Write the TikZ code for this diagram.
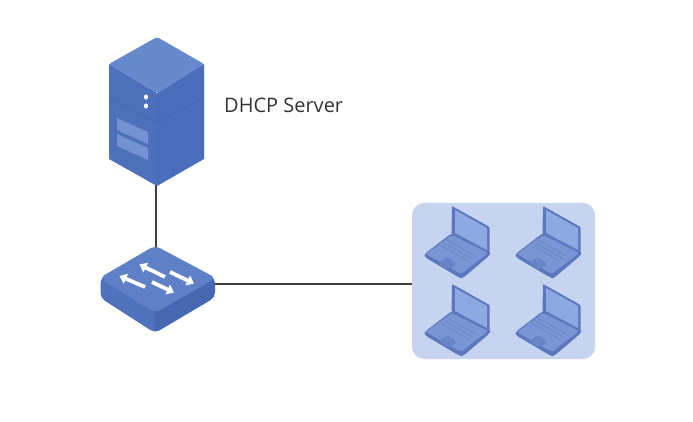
\documentclass[tikz,border=0pt]{standalone}
\usepackage{fontspec}
\setmainfont{Open Sans}
\usetikzlibrary{arrows.meta}
\definecolor{srvtop}{HTML}{6688CC}
\definecolor{srvleft}{HTML}{4C70BC}
\definecolor{srvright}{HTML}{4A6EBB}
\definecolor{srvdark}{HTML}{4669B4}
\definecolor{srvslot}{HTML}{7392D2}
\definecolor{swtop}{HTML}{5E80C6}
\definecolor{swleft}{HTML}{4F72BC}
\definecolor{swright}{HTML}{4667B2}
\definecolor{panelbg}{HTML}{C6D4F0}
\definecolor{lapdark}{HTML}{5B78BE}
\definecolor{lapbase}{HTML}{7A95D3}
\definecolor{lapscreen}{HTML}{8EA8E1}
\definecolor{lapkey}{HTML}{6A85C7}
\definecolor{wire}{HTML}{3F3F3F}
\tikzset{
  wireline/.style={draw=wire,line width=2pt},
  swarrow/.style={draw=white,line width=3.8pt,-{Triangle[length=7pt,width=10.5pt]}},
  laptop/.pic={
    \fill[lapdark,rounded corners=1pt] (-1.5,27) -- (-1,-1) -- (36.5,20) -- (36.5,47) -- cycle;
    \fill[lapscreen] (2,3) -- (34,21) -- (34,43) -- (2,26) -- cycle;
    \fill[lapdark,rounded corners=3pt] (-1,26) -- (-28.5,47) -- (-28.5,50) -- (7,71) -- (10,71) -- (37,48) -- (37,45) -- cycle;
    \fill[lapbase,rounded corners=2pt] (-1,28) -- (-27,47) -- (8,67) -- (35,46) -- cycle;
    \foreach \k in {0,1,2}{
      \draw[lapkey,line width=.7pt] ({-6-3.2*\k},{33+2.6*\k}) -- ({22-3.2*\k},{49+2.6*\k});
    }
    \fill[lapkey,rounded corners=3pt] (-15,56) -- (-6,50) -- (4,57) -- (-5,63) -- cycle;
  }
}
\begin{document}
\begin{tikzpicture}[x=1pt,y=-1pt]
\useasboundingbox (0,0) rectangle (693,422);
\fill[white] (0,0) rectangle (693,422);

% anchor points of the connectors
\coordinate (serverbase) at (155.5,180);
\coordinate (switchtop) at (155.5,252);
\coordinate (switchright) at (208,283.5);

% panel
\node[fill=panelbg,rounded corners=12pt,minimum width=183pt,minimum height=156pt,inner sep=0pt] (panel) at (503.5,281) {};

% connectors
\draw[wireline] (serverbase) -- (switchtop);
\draw[wireline] (switchright) -- (panel.west |- switchright);

% server
\fill[srvleft] (109,64) -- (157,93) -- (157,186) -- (109,159) -- cycle;
\fill[srvright] (204,64) -- (157,93) -- (157,186) -- (204,159) -- cycle;
\fill[srvtop,rounded corners=2pt] (157,37) -- (204,64) -- (157,93) -- (109,64) -- cycle;
\draw[srvdark,line width=.7pt] (109,96.5) -- (157,122.5) -- (204,97.5);
\fill[srvslot] (117,118) -- (148,132) -- (148,144) -- (117,130) -- cycle;
\fill[srvslot] (117,134) -- (148,148) -- (148,160) -- (117,146) -- cycle;
\fill[white] (146,97) ellipse (2pt and 2.6pt);
\fill[white] (146,106) ellipse (2pt and 2.6pt);

% switch
\begin{scope}
\clip[rounded corners=5pt] (155,246.5) -- (215,278) -- (215,297.5) -- (155,333) -- (100.5,298) -- (100.5,278) -- cycle;
\fill[swleft] (95,270) rectangle (155,340);
\fill[swright] (155,270) rectangle (220,340);
\end{scope}
\fill[swtop,rounded corners=6pt] (155,245.5) -- (216,278) -- (155,313) -- (99.5,278) -- cycle;
\draw[swarrow] (165,277) -- (139.5,264.5);
\draw[swarrow] (145,287) -- (119.5,276);
\draw[swarrow] (170,272) -- (194,283.5);
\draw[swarrow] (152,282) -- (174,292.5);

% laptops
\pic at (453,207) {laptop};
\pic at (544,207) {laptop};
\pic at (453,285) {laptop};
\pic at (544,285) {laptop};

% label
\node[font=\fontsize{20pt}{23pt}\selectfont,text=black!80,inner sep=0pt,anchor=west] (label) at (224,105) {DHCP Server};
\end{tikzpicture}
\end{document}
